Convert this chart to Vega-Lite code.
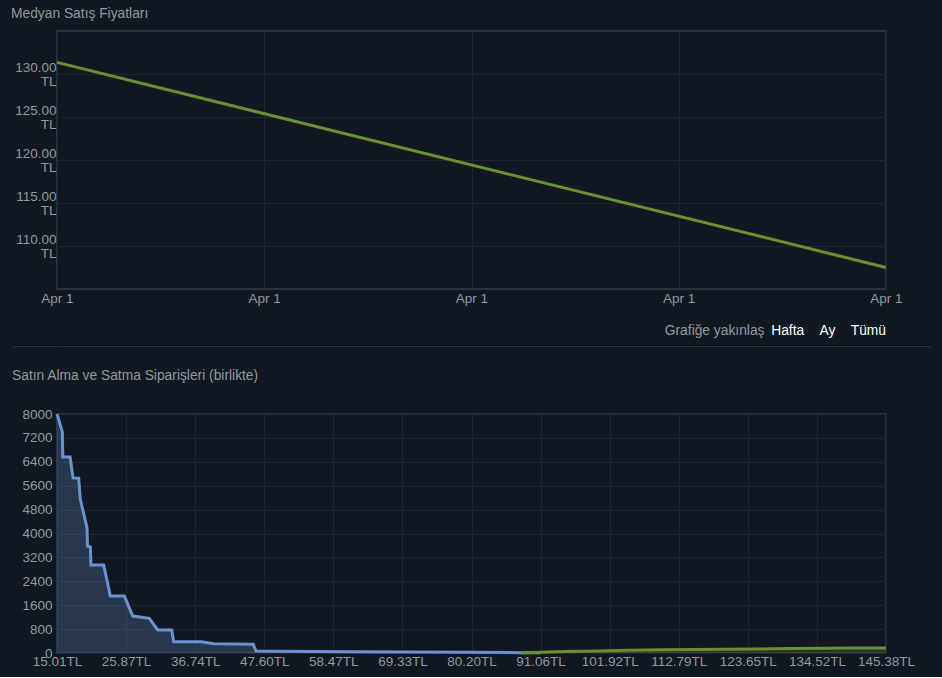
{
  "$schema": "https://vega.github.io/schema/vega-lite/v6.json",
  "background": "#111821",
  "padding": {"left": 0, "top": 7, "right": 11, "bottom": 8},
  "title": {"text": "Medyan Satış Fiyatları", "anchor": "start", "frame": "bounds", "dx": 11, "fontSize": 13.8, "fontWeight": "normal", "color": "#8f98a0", "offset": 9},
  "columns": 1,
  "spacing": 5,
  "concat": [
    {
      "width": 829,
      "height": 258,
      "title": {"text": "Hafta\u00a0\u00a0\u00a0\u00a0Ay\u00a0\u00a0\u00a0\u00a0Tümü", "orient": "bottom", "anchor": "end", "frame": "group", "color": "#ffffff", "fontSize": 13.8, "fontWeight": "normal", "offset": -13},
      "data": {"values": [{"t": 0, "price": 131.35}, {"t": 4, "price": 107.5}]},
      "mark": {"type": "line", "color": "#6a8f33", "strokeWidth": 3},
      "encoding": {
        "x": {"field": "t", "type": "quantitative", "scale": {"domain": [0, 4], "nice": false},
          "axis": {"values": [0, 1, 2, 3, 4], "labelExpr": "'Apr 1'", "labelFlush": false, "labelPadding": 2,
            "title": "Grafiğe yakınlaş", "titleColor": "#8f98a0", "titleFontSize": 13.8, "titleFontWeight": "normal",
            "titleAnchor": "end", "titleAlign": "right", "titleX": 707, "titleY": 41, "titleBaseline": "middle"}},
        "y": {"field": "price", "type": "quantitative", "scale": {"domain": [105, 135], "nice": false, "zero": false},
          "axis": {"values": [110, 115, 120, 125, 130], "labelExpr": "[format(datum.value, '.2f'), 'TL']", "labelPadding": 1, "labelLineHeight": 14, "labelOffset": -7, "title": null, "minExtent": 56, "maxExtent": 56}}
      }
    },
    {
      "width": 874,
      "height": 18,
      "view": {"stroke": null},
      "data": {"values": [{"v": 18}]},
      "mark": {"type": "rule", "opacity": 0},
      "encoding": {"y": {"field": "v", "type": "quantitative", "scale": {"domain": [0, 18], "nice": false},
        "axis": {"values": [18, 17], "labels": false, "domain": false, "title": null, "grid": true, "ticks": true, "tickSize": 45, "tickWidth": 1, "gridWidth": 1,
          "gridColor": {"condition": {"test": "datum.value == 18", "value": "#0a0e14"}, "value": "#2a3543"},
          "tickColor": {"condition": {"test": "datum.value == 18", "value": "#0a0e14"}, "value": "#2a3543"}}}}
    },
    {
      "width": 829,
      "height": 239,
      "title": {"text": "Satın Alma ve Satma Siparişleri (birlikte)", "anchor": "start", "frame": "group", "dx": -45, "fontSize": 13.8, "fontWeight": "normal", "color": "#8f98a0", "offset": 24},
      "data": {"values": [
        {"price": 15.01, "qty": 8000, "side": "buy"},
        {"price": 15.85, "qty": 7400, "side": "buy"},
        {"price": 15.92, "qty": 6560, "side": "buy"},
        {"price": 17.07, "qty": 6560, "side": "buy"},
        {"price": 17.53, "qty": 5860, "side": "buy"},
        {"price": 18.42, "qty": 5850, "side": "buy"},
        {"price": 18.67, "qty": 5145, "side": "buy"},
        {"price": 19.73, "qty": 4195, "side": "buy"},
        {"price": 19.8, "qty": 3580, "side": "buy"},
        {"price": 20.25, "qty": 3550, "side": "buy"},
        {"price": 20.35, "qty": 2945, "side": "buy"},
        {"price": 22.35, "qty": 2945, "side": "buy"},
        {"price": 23.39, "qty": 1908, "side": "buy"},
        {"price": 25.6, "qty": 1908, "side": "buy"},
        {"price": 26.92, "qty": 1238, "side": "buy"},
        {"price": 29.53, "qty": 1161, "side": "buy"},
        {"price": 30.85, "qty": 770, "side": "buy"},
        {"price": 33.05, "qty": 770, "side": "buy"},
        {"price": 33.36, "qty": 378, "side": "buy"},
        {"price": 37.66, "qty": 378, "side": "buy"},
        {"price": 39.7, "qty": 311, "side": "buy"},
        {"price": 45.88, "qty": 290, "side": "buy"},
        {"price": 46.3, "qty": 67, "side": "buy"},
        {"price": 50.2, "qty": 57, "side": "buy"},
        {"price": 55, "qty": 50, "side": "buy"},
        {"price": 60, "qty": 42, "side": "buy"},
        {"price": 70, "qty": 33, "side": "buy"},
        {"price": 80, "qty": 24, "side": "buy"},
        {"price": 88, "qty": 12, "side": "buy"},
        {"price": 91.06, "qty": 5, "side": "buy"},
        {"price": 88, "qty": 0, "side": "sell"},
        {"price": 91.06, "qty": 25, "side": "sell"},
        {"price": 95, "qty": 50, "side": "sell"},
        {"price": 100, "qty": 70, "side": "sell"},
        {"price": 105, "qty": 90, "side": "sell"},
        {"price": 110, "qty": 110, "side": "sell"},
        {"price": 115, "qty": 118, "side": "sell"},
        {"price": 120, "qty": 125, "side": "sell"},
        {"price": 125, "qty": 130, "side": "sell"},
        {"price": 130, "qty": 150, "side": "sell"},
        {"price": 135, "qty": 160, "side": "sell"},
        {"price": 140, "qty": 165, "side": "sell"},
        {"price": 145.38, "qty": 170, "side": "sell"}
      ]},
      "mark": {"type": "area", "fillOpacity": 0.25, "line": {"strokeWidth": 3}},
      "encoding": {
        "x": {"field": "price", "type": "quantitative", "scale": {"domain": [15.01, 145.38], "nice": false, "zero": false},
          "axis": {"values": [15.01, 25.87, 36.74, 47.6, 58.47, 69.33, 80.2, 91.06, 101.92, 112.79, 123.65, 134.52, 145.38], "labelExpr": "format(datum.value, '.2f') + 'TL'", "labelFlush": false, "labelOverlap": false, "labelPadding": 1, "title": null}},
        "y": {"field": "qty", "type": "quantitative", "stack": null, "scale": {"domain": [0, 8000], "nice": false},
          "axis": {"values": [0, 800, 1600, 2400, 3200, 4000, 4800, 5600, 6400, 7200, 8000], "format": "d", "labelPadding": 5, "title": null, "minExtent": 56, "maxExtent": 56}},
        "color": {"field": "side", "type": "nominal", "scale": {"domain": ["buy", "sell"], "range": ["#6a93d2", "#6a8f33"]}, "legend": null}
      }
    }
  ],
  "config": {
    "font": "Liberation Sans",
    "view": {"stroke": "#28333f", "strokeWidth": 2},
    "axis": {"labelColor": "#8f98a0", "labelFontSize": 13.5, "labelFont": "Liberation Sans", "gridColor": "#1d2733", "gridWidth": 1, "domain": false, "ticks": false},
    "title": {"font": "Liberation Sans"}
  }
}
